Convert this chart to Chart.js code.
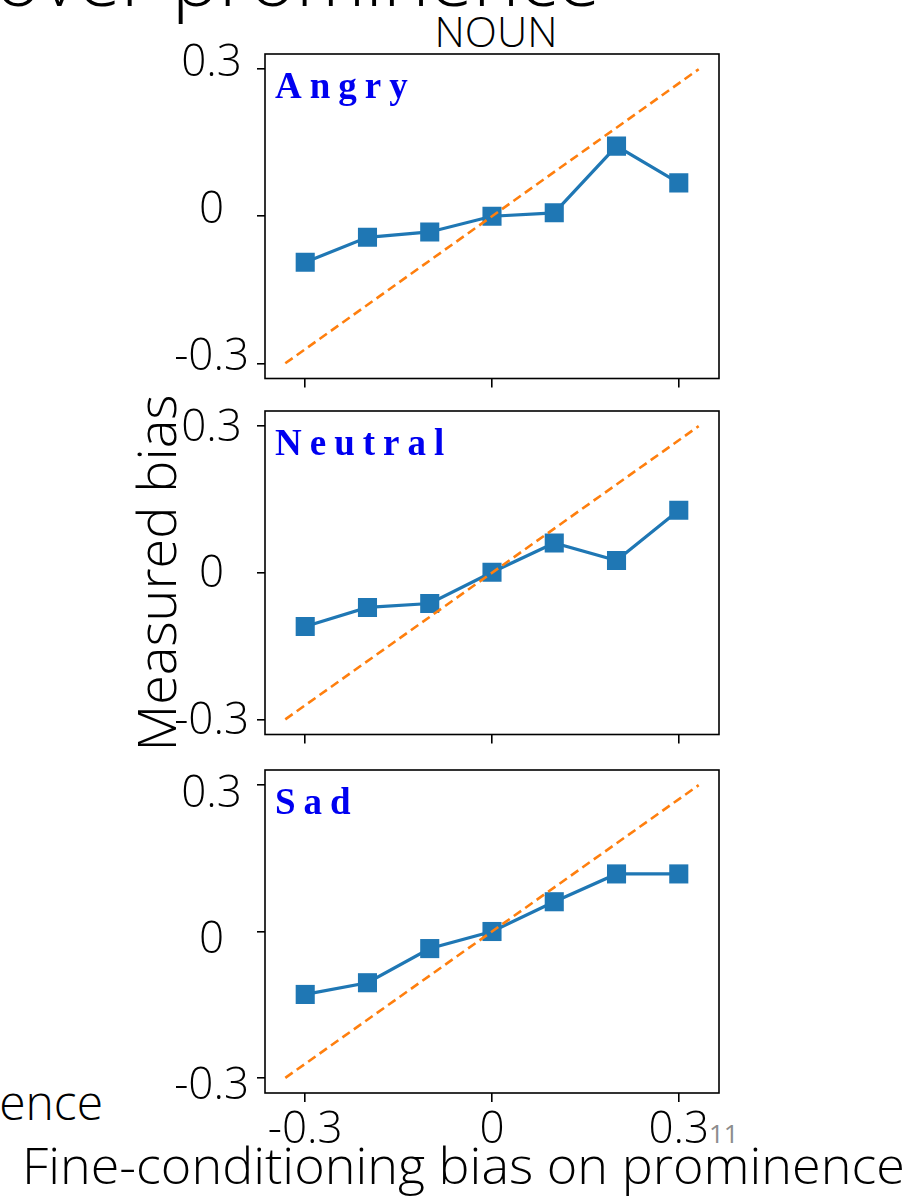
<!DOCTYPE html>
<html lang="en">
  <head>
    <meta charset="utf-8" />
    <title>Measured bias vs fine-conditioning bias (NOUN)</title>
    <script src="https://cdn.jsdelivr.net/npm/chart.js@4"></script>
    <style>
      body { margin: 0; background: #fff; width: 918px; height: 1200px; overflow: hidden; position: relative; font-family: "Open Sans", sans-serif; }
      .txt { position: absolute; white-space: nowrap; color: #000; font-weight: 300; line-height: 1; transform-origin: left center; }
      canvas.panel { position: absolute; left: 0; }
    </style>
  </head>
  <body>
    <div class="txt" id="heading" style="left:-5px; top:-61px; font-size:76px;">over prominence</div>
    <div class="txt" id="noun" style="top:10px; font-size:42px;">NOUN</div>
    <div class="txt" id="ytitle" style="font-size:54px;">Measured bias</div>
    <div class="txt" id="leftcut" style="right:815px; top:1078px; font-size:48px; text-align:right;">prominence</div>
    <div class="txt" id="xtitle" style="left:22px; top:1140px; font-size:50px;">Fine-conditioning bias on prominence</div>
    <div class="txt" id="slideno" style="left:709px; top:1120px; font-size:26px; color:#8c8c8c; font-weight:400;">11</div>

    <script>
      // values
      const biasLevels = [-0.3, -0.2, -0.1, 0, 0.1, 0.2, 0.3];
      const emotions = ['Angry', 'Neutral', 'Sad'];
      const angryBias = [-0.094, -0.043, -0.032, 0.000, 0.007, 0.143, 0.068];
      const neutralBias = [-0.110, -0.071, -0.063, 0.001, 0.061, 0.025, 0.128];
      const sadBias = [-0.129, -0.105, -0.035, 0.000, 0.061, 0.118, 0.118];
      const seriesByEmotion = [angryBias, neutralBias, sadBias];
      const diagonalX = [-0.332, 0.332];
      const diagonalY = [-0.3, 0.3];
      const tickValues = [-0.3, 0, 0.3];
      const tickLabels = ['-0.3', '0', '0.3'];
      const xLimits = [-0.3646, 0.3646];
      const yLimits = [-0.331, 0.331];

      // page layout
      const PLOT_LEFT = 265, PLOT_RIGHT = 719, Y_AXIS_W = 100;
      const panelTops = [54, 411, 770];
      const panelHeights = [326, 325, 323];
      const yLabelShift = [-6, 2, 9];   // the slide's tick labels sit a bit off their ticks
      const tickFont = { family: "'Open Sans'", size: 44, weight: 300 };

      const frameBox = {
        id: 'frameBox',
        afterDraw(chart) {
          const { ctx, chartArea: a } = chart;
          ctx.save();
          ctx.strokeStyle = '#000';
          ctx.lineWidth = 1.6;
          ctx.strokeRect(a.left, a.top, a.right - a.left, a.bottom - a.top);
          ctx.restore();
        }
      };

      // spaced-out bold serif tag in the top left corner
      const emotionTag = {
        id: 'emotionTag',
        afterDraw(chart, args, opts) {
          const { ctx, chartArea: a } = chart;
          ctx.save();
          ctx.font = "bold 37px 'Liberation Serif', 'DejaVu Serif', serif";
          ctx.fillStyle = '#0000f0';
          ctx.textBaseline = 'alphabetic';
          let x = a.left + 10;
          for (const ch of opts.text) {
            ctx.fillText(ch, x, a.top + 44);
            x += ctx.measureText(ch).width + 8;
          }
          ctx.restore();
        }
      };

      function makePanel(i) {
        const last = i === emotions.length - 1;
        const pad = 24;
        const axisH = last ? 64 : 12;
        const canvas = document.createElement('canvas');
        canvas.className = 'panel';
        canvas.width = 918;
        canvas.height = pad + panelHeights[i] + axisH;
        canvas.style.top = (panelTops[i] - pad) + 'px';
        document.body.appendChild(canvas);

        new Chart(canvas, {
          type: 'line',
          data: {
            datasets: [
              {
                label: 'diagonal',
                data: diagonalX.map((x, k) => ({ x, y: diagonalY[k] })),
                borderColor: '#ff7f0e',
                borderWidth: 2.6,
                borderDash: [9, 5],
                pointRadius: 0,
                fill: false
              },
              {
                label: emotions[i],
                data: biasLevels.map((x, k) => ({ x, y: seriesByEmotion[i][k] })),
                borderColor: '#1f77b4',
                backgroundColor: '#1f77b4',
                borderWidth: 3.2,
                pointStyle: 'rect',
                pointRadius: 13.5,
                pointBorderWidth: 0,
                fill: false
              }
            ]
          },
          options: {
            responsive: false,
            animation: false,
            devicePixelRatio: 1,
            layout: { padding: { left: PLOT_LEFT - Y_AXIS_W, right: 918 - PLOT_RIGHT, top: pad, bottom: 0 } },
            plugins: {
              legend: { display: false },
              tooltip: { enabled: false },
              emotionTag: { text: emotions[i] }
            },
            scales: {
              x: {
                type: 'linear',
                min: xLimits[0],
                max: xLimits[1],
                afterBuildTicks: s => { s.ticks = tickValues.map(v => ({ value: v })); },
                afterFit: s => { s.height = axisH; s.paddingLeft = 0; s.paddingRight = 0; },
                grid: { drawOnChartArea: false, drawTicks: true, tickLength: 9, color: '#000', lineWidth: 1.6 },
                border: { display: false },
                ticks: {
                  display: last,
                  padding: 2,
                  color: '#000',
                  font: tickFont,
                  maxRotation: 0,
                  autoSkip: false,
                  callback: v => tickLabels[tickValues.indexOf(v)]
                }
              },
              y: {
                type: 'linear',
                min: yLimits[0],
                max: yLimits[1],
                afterBuildTicks: s => { s.ticks = tickValues.map(v => ({ value: v })); },
                afterFit: s => { s.width = Y_AXIS_W; s.paddingTop = 0; s.paddingBottom = 0; },
                grid: { drawOnChartArea: false, drawTicks: true, tickLength: 8, color: '#000', lineWidth: 1.6 },
                border: { display: false },
                ticks: {
                  color: '#000',
                  font: tickFont,
                  padding: 8,
                  crossAlign: 'center',
                  labelOffset: yLabelShift[i],
                  autoSkip: false,
                  callback: v => tickLabels[tickValues.indexOf(v)]
                }
              }
            }
          },
          plugins: [frameBox, emotionTag]
        });
      }

      emotions.forEach((e, i) => makePanel(i));

      // place the loose slide texts
      function fitWidth(id, target) {
        const el = document.getElementById(id);
        const w = el.getBoundingClientRect().width;
        el.style.transform = 'scaleX(' + (target / w).toFixed(3) + ')';
      }
      fitWidth('heading', 605);
      fitWidth('xtitle', 883);

      const noun = document.getElementById('noun');
      noun.style.left = (496 - noun.getBoundingClientRect().width / 2) + 'px';

      const yt = document.getElementById('ytitle');
      const r = yt.getBoundingClientRect();
      yt.style.left = (155 - r.width / 2) + 'px';
      yt.style.top = (573 - r.height / 2) + 'px';
      yt.style.transformOrigin = 'center center';
      yt.style.transform = 'rotate(-90deg)';
    </script>
  </body>
</html>
